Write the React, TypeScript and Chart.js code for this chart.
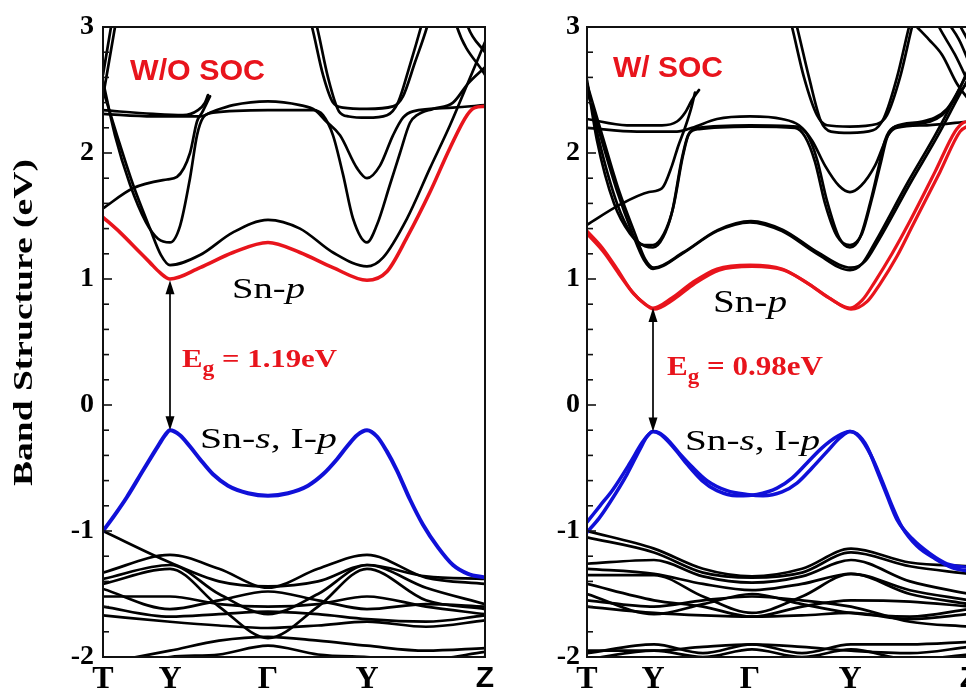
import React, { useEffect, useRef } from 'react';
import { Chart, registerables } from 'chart.js';
Chart.register(...registerables);

// ---------- axis data ----------
const K_LABELS = ['T', 'Y', 'Γ', 'Y', 'Z'];
const L_KPOS = [0, 0.67, 1.65, 2.64, 3.82];
const R_KPOS = [0, 0.66, 1.63, 2.63, 3.82];
const Y_TICKS = [-2, -1, 0, 1, 2, 3];
const K_VB = [0, 0.67, 1.16, 1.65, 2.15, 2.64, 3.23, 3.82];

// ---------- W/O SOC bands: [k, E (eV)] ----------
const L_CB = [[0, 1.49], [0.17, 1.37], [0.37, 1.21], [0.47, 1.13], [0.57, 1.05], [0.67, 1.0], [0.97, 1.09], [1.3, 1.21], [1.65, 1.29], [1.97, 1.21], [2.3, 1.09], [2.64, 0.99], [2.84, 1.06], [3.04, 1.33], [3.27, 1.69], [3.47, 2.04], [3.64, 2.3], [3.72, 2.36], [3.82, 2.37]];
const L_VB = [[0, -1.0], [0.12, -0.87], [0.24, -0.73], [0.4, -0.52], [0.5, -0.39], [0.57, -0.3], [0.62, -0.24], [0.67, -0.2], [0.77, -0.24], [0.87, -0.33], [0.97, -0.43], [1.1, -0.55], [1.25, -0.64], [1.45, -0.7], [1.65, -0.72], [1.85, -0.7], [2.05, -0.64], [2.2, -0.55], [2.34, -0.43], [2.44, -0.33], [2.54, -0.24], [2.64, -0.2], [2.74, -0.25], [2.84, -0.37], [2.94, -0.52], [3.07, -0.75], [3.2, -0.95], [3.35, -1.13], [3.5, -1.27], [3.65, -1.34], [3.82, -1.37]];
const L_B1 = [[0, 2.5], [0.14, 2.14], [0.3, 1.75], [0.47, 1.4], [0.58, 1.19], [0.67, 1.11], [0.97, 1.19], [1.3, 1.37], [1.65, 1.47], [1.97, 1.4], [2.3, 1.21], [2.64, 1.1], [2.8, 1.17], [3.04, 1.48], [3.27, 1.88], [3.47, 2.22], [3.64, 2.54], [3.82, 2.88]];
const L_B2 = [[0, 2.57], [0.12, 2.14], [0.27, 1.75], [0.43, 1.45], [0.55, 1.32], [0.67, 1.29], [0.77, 1.42], [0.87, 1.8], [0.94, 2.14], [1.0, 2.28], [1.1, 2.32], [1.65, 2.34], [2.1, 2.34], [2.2, 2.3], [2.3, 2.14], [2.4, 1.83], [2.5, 1.48], [2.64, 1.29], [2.74, 1.43], [2.87, 1.75], [2.97, 2.0], [3.07, 2.24], [3.14, 2.3], [3.3, 2.35], [3.5, 2.4], [3.65, 2.55], [3.82, 2.68]];
const L_B3 = [[0, 1.56], [0.3, 1.72], [0.64, 1.79], [0.74, 1.81], [0.87, 2.0], [0.94, 2.25], [0.99, 2.32], [1.04, 2.4], [1.07, 2.45]];
const L_F1 = [[0, 2.34], [0.5, 2.31], [0.8, 2.3], [0.95, 2.34], [1.02, 2.4], [1.05, 2.46]];
const L_F2 = [[0, 2.31], [0.5, 2.29], [0.97, 2.29], [1.1, 2.33], [1.3, 2.38], [1.65, 2.41], [1.97, 2.38], [2.12, 2.34], [2.22, 2.26], [2.37, 2.14], [2.54, 1.88], [2.64, 1.8], [2.77, 1.9], [2.9, 2.14], [3.0, 2.28], [3.1, 2.33], [3.5, 2.36], [3.82, 2.38]];
const L_U1 = [[1.98, 3.3], [2.09, 3.0], [2.2, 2.62], [2.3, 2.4], [2.4, 2.36], [2.64, 2.35], [2.9, 2.37], [3.0, 2.45], [3.12, 2.72], [3.24, 3.0], [3.34, 3.3]];
const L_U2 = [[2.03, 3.3], [2.14, 3.0], [2.25, 2.6], [2.36, 2.33], [2.46, 2.29], [2.64, 2.28], [2.84, 2.3], [2.95, 2.4], [3.07, 2.7], [3.18, 3.0], [3.28, 3.3]];
const L_T1 = [[0, 2.45], [0.12, 3.0], [0.2, 3.4]];
const L_T2 = [[0, 2.62], [0.08, 3.0], [0.14, 3.3]];
const L_D1 = [[3.45, 3.3], [3.54, 3.0], [3.82, 2.62]];
const L_D2 = [[3.55, 3.3], [3.65, 3.0], [3.82, 2.8]];
const L_VALENCE = [
  [-1.0, -1.25, -1.4, -1.44, -1.4, -1.27, -1.36, -1.38],
  [-1.33, -1.19, -1.3, -1.45, -1.3, -1.19, -1.37, -1.42],
  [-1.38, -1.27, -1.5, -1.66, -1.5, -1.27, -1.45, -1.58],
  [-1.42, -1.3, -1.6, -1.85, -1.6, -1.3, -1.55, -1.62],
  [-1.46, -1.62, -1.55, -1.48, -1.55, -1.62, -1.58, -1.6],
  [-1.52, -1.52, -1.58, -1.6, -1.58, -1.52, -1.6, -1.66],
  [-1.6, -1.68, -1.66, -1.64, -1.66, -1.7, -1.72, -1.67],
  [-1.67, -1.72, -1.75, -1.77, -1.75, -1.72, -1.76, -1.71],
  [-2.05, -1.95, -1.87, -1.84, -1.87, -1.91, -1.95, -1.93],
  [-2.1, -2.0, -1.98, -1.91, -1.98, -2.0, -2.02, -1.96],
  [-2.2, -2.02, -2.0, -2.05, -2.0, -2.02, -2.05, -2.0],
];

// ---------- W/ SOC bands ----------
const R_CB1 = [[0, 1.38], [0.15, 1.25], [0.3, 1.08], [0.45, 0.9], [0.58, 0.8], [0.66, 0.77], [0.85, 0.85], [1.05, 0.97], [1.3, 1.08], [1.63, 1.11], [1.95, 1.08], [2.2, 0.97], [2.42, 0.85], [2.63, 0.77], [2.75, 0.83], [2.88, 0.98], [3.05, 1.2], [3.21, 1.43], [3.48, 1.85], [3.68, 2.17], [3.76, 2.24], [3.82, 2.25]];
const R_CB2 = [[0, 1.36], [0.17, 1.21], [0.32, 1.04], [0.47, 0.88], [0.6, 0.79], [0.67, 0.76], [0.87, 0.84], [1.07, 0.96], [1.32, 1.07], [1.65, 1.1], [1.97, 1.07], [2.22, 0.96], [2.44, 0.84], [2.64, 0.76], [2.8, 0.82], [2.93, 0.96], [3.1, 1.18], [3.26, 1.43], [3.53, 1.85], [3.73, 2.17], [3.82, 2.22]];
const R_VB1 = [[0, -0.93], [0.13, -0.8], [0.26, -0.67], [0.43, -0.46], [0.55, -0.3], [0.61, -0.24], [0.66, -0.21], [0.73, -0.23], [0.8, -0.28], [0.9, -0.37], [1.0, -0.47], [1.15, -0.6], [1.3, -0.68], [1.5, -0.72], [1.7, -0.71], [1.9, -0.66], [2.05, -0.58], [2.2, -0.46], [2.35, -0.34], [2.5, -0.25], [2.63, -0.21], [2.7, -0.23], [2.8, -0.33], [2.9, -0.52], [3.0, -0.72], [3.1, -0.91], [3.25, -1.06], [3.43, -1.18], [3.6, -1.26], [3.82, -1.29]];
const R_VB2 = [[0, -1.01], [0.12, -0.9], [0.24, -0.76], [0.4, -0.55], [0.53, -0.35], [0.6, -0.25], [0.66, -0.21], [0.72, -0.22], [0.8, -0.27], [0.92, -0.38], [1.05, -0.49], [1.2, -0.6], [1.4, -0.68], [1.6, -0.71], [1.76, -0.72], [1.95, -0.69], [2.1, -0.62], [2.25, -0.5], [2.4, -0.37], [2.53, -0.26], [2.63, -0.21], [2.72, -0.25], [2.84, -0.4], [2.95, -0.6], [3.05, -0.8], [3.15, -0.97], [3.3, -1.12], [3.48, -1.22], [3.65, -1.29], [3.82, -1.32]];
const R_B1A = [[0, 2.5], [0.14, 2.12], [0.3, 1.7], [0.46, 1.35], [0.57, 1.15], [0.66, 1.08], [0.95, 1.2], [1.3, 1.38], [1.63, 1.45], [1.95, 1.38], [2.3, 1.2], [2.63, 1.07], [2.75, 1.12], [2.88, 1.29], [3.21, 1.77], [3.48, 2.14], [3.68, 2.44], [3.82, 2.66]];
const R_B1B = [[0, 2.55], [0.16, 2.12], [0.32, 1.7], [0.48, 1.36], [0.58, 1.16], [0.67, 1.09], [0.96, 1.21], [1.31, 1.39], [1.64, 1.46], [1.96, 1.39], [2.31, 1.21], [2.64, 1.09], [2.78, 1.14], [2.91, 1.3], [3.24, 1.77], [3.51, 2.14], [3.71, 2.44], [3.82, 2.6]];
const R_B2A = [[0, 2.55], [0.12, 2.1], [0.3, 1.6], [0.45, 1.35], [0.58, 1.26], [0.66, 1.25], [0.76, 1.33], [0.85, 1.53], [0.95, 1.96], [1.01, 2.14], [1.11, 2.2], [1.63, 2.22], [2.1, 2.21], [2.2, 2.15], [2.3, 1.95], [2.4, 1.62], [2.52, 1.33], [2.63, 1.25], [2.73, 1.33], [2.83, 1.6], [2.92, 1.9], [2.98, 2.1], [3.06, 2.2], [3.3, 2.23], [3.55, 2.3], [3.7, 2.45], [3.82, 2.58]];
const R_B2B = [[0, 2.58], [0.1, 2.1], [0.27, 1.6], [0.43, 1.36], [0.57, 1.27], [0.66, 1.27], [0.77, 1.36], [0.86, 1.56], [0.96, 1.98], [1.02, 2.15], [1.12, 2.19], [1.63, 2.21], [2.08, 2.2], [2.18, 2.13], [2.28, 1.93], [2.38, 1.6], [2.5, 1.34], [2.63, 1.27], [2.75, 1.36], [2.85, 1.64], [2.94, 1.93], [3.0, 2.12], [3.08, 2.21], [3.35, 2.25], [3.6, 2.35], [3.73, 2.52], [3.82, 2.68]];
const R_B3 = [[0, 1.43], [0.33, 1.59], [0.62, 1.69], [0.75, 1.72], [0.85, 1.9], [0.91, 2.05], [0.98, 2.2], [1.04, 2.35], [1.08, 2.48]];
const R_F1 = [[0, 2.27], [0.4, 2.22], [0.75, 2.22], [0.9, 2.25], [0.98, 2.32], [1.05, 2.42], [1.12, 2.5]];
const R_F2 = [[0, 2.2], [0.5, 2.17], [0.9, 2.17], [1.05, 2.2], [1.3, 2.27], [1.63, 2.29], [1.95, 2.27], [2.12, 2.22], [2.25, 2.1], [2.38, 1.9], [2.52, 1.74], [2.63, 1.69], [2.74, 1.74], [2.88, 1.9], [3.01, 2.14], [3.1, 2.2], [3.4, 2.22], [3.82, 2.25]];
const R_U1 = [[1.95, 3.3], [2.05, 3.0], [2.17, 2.6], [2.3, 2.3], [2.4, 2.22], [2.63, 2.21], [2.9, 2.23], [3.0, 2.3], [3.13, 2.6], [3.25, 3.0], [3.35, 3.3]];
const R_U2 = [[2.0, 3.3], [2.1, 3.0], [2.22, 2.6], [2.34, 2.25], [2.44, 2.17], [2.63, 2.16], [2.86, 2.18], [2.97, 2.28], [3.1, 2.6], [3.22, 3.0], [3.32, 3.3]];
const R_D1 = [[3.3, 3.0], [3.42, 2.9], [3.55, 2.78], [3.7, 2.55], [3.82, 2.42]];
const R_D2 = [[3.4, 3.2], [3.52, 3.0], [3.68, 2.78], [3.82, 2.55]];
const R_D3 = [[3.5, 3.2], [3.6, 3.05], [3.72, 2.9], [3.82, 2.72]];
const R_D4 = [[3.55, 3.3], [3.67, 3.1], [3.82, 2.88]];
const R_VALENCE = [
  [-1.0, -1.14, -1.3, -1.36, -1.3, -1.14, -1.25, -1.28],
  [-1.05, -1.17, -1.33, -1.37, -1.33, -1.17, -1.28, -1.34],
  [-1.26, -1.23, -1.36, -1.41, -1.36, -1.23, -1.4, -1.5],
  [-1.3, -1.34, -1.42, -1.47, -1.42, -1.34, -1.47, -1.55],
  [-1.35, -1.35, -1.52, -1.65, -1.52, -1.34, -1.5, -1.58],
  [-1.42, -1.55, -1.6, -1.68, -1.6, -1.55, -1.56, -1.6],
  [-1.5, -1.66, -1.58, -1.5, -1.58, -1.65, -1.68, -1.62],
  [-1.55, -1.6, -1.55, -1.52, -1.55, -1.6, -1.72, -1.76],
  [-1.6, -1.65, -1.67, -1.68, -1.67, -1.65, -1.7, -1.66],
  [-1.97, -1.9, -1.97, -1.9, -1.97, -1.9, -1.9, -1.88],
  [-1.95, -1.95, -1.92, -1.9, -1.92, -1.95, -1.97, -1.92],
  [-2.02, -1.95, -2.0, -1.94, -2.0, -1.94, -2.02, -1.98],
];

const RED = '#e8141c';
const BLUE = '#1010d8';
const SERIF = '"Liberation Serif", "Times New Roman", serif';
const SANS = '"Liberation Sans", Arial, sans-serif';

type Part = { t: string; i?: boolean; b?: boolean; sub?: boolean };
type Label = { parts: Part[]; k: number; e: number; size: number; w: number; color: string; family: string };

function drawRich(ctx: CanvasRenderingContext2D, lab: { parts: Part[]; size: number; w: number; color: string; family: string }) {
  const fontFor = (p: Part) => `${p.i ? 'italic ' : ''}${p.b ? 'bold ' : ''}${p.sub ? Math.round(lab.size * 0.75) : lab.size}px ${lab.family}`;
  let nat = 0;
  for (const p of lab.parts) { ctx.font = fontFor(p); nat += ctx.measureText(p.t).width; }
  const sx = lab.w / nat;
  ctx.save();
  ctx.scale(sx, 1);
  ctx.fillStyle = lab.color;
  ctx.textBaseline = 'alphabetic';
  ctx.textAlign = 'left';
  let cx = 0;
  for (const p of lab.parts) {
    ctx.font = fontFor(p);
    ctx.fillText(p.t, cx, p.sub ? lab.size * 0.3 : 0);
    cx += ctx.measureText(p.t).width;
  }
  ctx.restore();
}

function drawArrow(ctx: CanvasRenderingContext2D, x: number, yTop: number, yBot: number) {
  const hl = 14, hw = 4.5;
  ctx.save();
  ctx.strokeStyle = '#000';
  ctx.fillStyle = '#000';
  ctx.lineWidth = 1.7;
  ctx.beginPath(); ctx.moveTo(x, yTop + hl - 2); ctx.lineTo(x, yBot - hl + 2); ctx.stroke();
  ctx.beginPath(); ctx.moveTo(x, yTop); ctx.lineTo(x - hw, yTop + hl); ctx.lineTo(x + hw, yTop + hl); ctx.closePath(); ctx.fill();
  ctx.beginPath(); ctx.moveTo(x, yBot); ctx.lineTo(x - hw, yBot - hl); ctx.lineTo(x + hw, yBot - hl); ctx.closePath(); ctx.fill();
  ctx.restore();
}

type PanelSpec = {
  kpos: number[];
  yW: number;
  padR: number;
  tickPad: number;
  bands: { pts: number[][]; color: string; width: number }[];
  labels: Label[];
  arrow: { k: number; eTop: number; eBot: number };
  yTitle: boolean;
};

const toPts = (arr: number[]) => K_VB.map((k, i) => [k, arr[i]]);
const BW = 2.7;

const LEFT: PanelSpec = {
  kpos: L_KPOS, yW: 103, padR: 15, tickPad: 9, yTitle: true,
  bands: [
    { pts: L_CB, color: RED, width: 3.6 },
    { pts: L_VB, color: BLUE, width: 4 },
    ...[L_B1, L_B2, L_B3, L_F1, L_F2, L_U1, L_U2, L_T1, L_T2, L_D1, L_D2].map((p) => ({ pts: p, color: '#000', width: BW })),
    ...L_VALENCE.map((a) => ({ pts: toPts(a), color: '#000', width: BW })),
  ],
  labels: [
    { parts: [{ t: 'W/O SOC', b: true }], k: 0.27, e: 2.58, size: 30, w: 135, color: RED, family: SANS },
    { parts: [{ t: 'Sn-' }, { t: 'p', i: true }], k: 1.29, e: 0.85, size: 30, w: 73, color: '#000', family: SERIF },
    { parts: [{ t: 'E', b: true }, { t: 'g', b: true, sub: true }, { t: ' = 1.19eV', b: true }], k: 0.79, e: 0.3, size: 26, w: 155, color: RED, family: SERIF },
    { parts: [{ t: 'Sn-' }, { t: 's', i: true }, { t: ', I-' }, { t: 'p', i: true }], k: 0.97, e: -0.34, size: 30, w: 137, color: '#000', family: SERIF },
  ],
  arrow: { k: 0.67, eTop: 0.99, eBot: -0.2 },
};

const RIGHT: PanelSpec = {
  kpos: R_KPOS, yW: 67, padR: 21, tickPad: 7, yTitle: false,
  bands: [
    { pts: R_CB1, color: RED, width: 3.2 },
    { pts: R_CB2, color: RED, width: 3.2 },
    { pts: R_VB1, color: BLUE, width: 3.5 },
    { pts: R_VB2, color: BLUE, width: 3.5 },
    ...[R_B1A, R_B1B, R_B2A, R_B2B, R_B3, R_F1, R_F2, R_U1, R_U2, R_D1, R_D2, R_D3, R_D4].map((p) => ({ pts: p, color: '#000', width: BW })),
    ...R_VALENCE.map((a) => ({ pts: toPts(a), color: '#000', width: BW })),
  ],
  labels: [
    { parts: [{ t: 'W/ SOC', b: true }], k: 0.26, e: 2.6, size: 30, w: 110, color: RED, family: SANS },
    { parts: [{ t: 'Sn-' }, { t: 'p', i: true }], k: 1.26, e: 0.74, size: 31, w: 74, color: '#000', family: SERIF },
    { parts: [{ t: 'E', b: true }, { t: 'g', b: true, sub: true }, { t: ' = 0.98eV', b: true }], k: 0.8, e: 0.24, size: 27, w: 156, color: RED, family: SERIF },
    { parts: [{ t: 'Sn-' }, { t: 's', i: true }, { t: ', I-' }, { t: 'p', i: true }], k: 0.98, e: -0.36, size: 30, w: 135, color: '#000', family: SERIF },
  ],
  arrow: { k: 0.66, eTop: 0.77, eBot: -0.21 },
};

function makePlugin(spec: PanelSpec) {
  return {
    id: 'bandDecor',
    afterDatasetsDraw(chart: any) {
      const ctx: CanvasRenderingContext2D = chart.ctx;
      const { left, right, top, bottom } = chart.chartArea;
      const xs = chart.scales.x;
      const ys = chart.scales.y;
      ctx.save();
      ctx.strokeStyle = '#111';
      ctx.lineWidth = 2;
      ctx.strokeRect(left, top, right - left, bottom - top);
      ctx.lineWidth = 1.6;
      for (let i = 0; i <= 25; i++) {
        const v = -2 + i * 0.2;
        const y = ys.getPixelForValue(v);
        const len = i % 5 === 0 ? 9 : 6;
        ctx.beginPath(); ctx.moveTo(left, y); ctx.lineTo(left + len, y); ctx.stroke();
      }
      for (const lab of spec.labels) {
        ctx.save();
        ctx.translate(xs.getPixelForValue(lab.k), ys.getPixelForValue(lab.e));
        drawRich(ctx, lab);
        ctx.restore();
      }
      drawArrow(ctx, xs.getPixelForValue(spec.arrow.k), ys.getPixelForValue(spec.arrow.eTop), ys.getPixelForValue(spec.arrow.eBot));
      if (spec.yTitle) {
        ctx.save();
        ctx.translate(left - 71, ys.getPixelForValue(0.65));
        ctx.rotate(-Math.PI / 2);
        ctx.translate(-163, 0);
        drawRich(ctx, { parts: [{ t: 'Band Structure (eV)', b: true }], size: 28, w: 327, color: '#000', family: SERIF });
        ctx.restore();
      }
      ctx.restore();
    },
  };
}

function buildConfig(spec: PanelSpec): any {
  return {
    type: 'line',
    data: {
      datasets: spec.bands.map((b) => ({
        data: b.pts.map(([x, y]) => ({ x, y })),
        borderColor: b.color,
        borderWidth: b.width,
        pointRadius: 0,
        fill: false,
        cubicInterpolationMode: 'monotone',
        borderCapStyle: 'round',
        borderJoinStyle: 'round',
      })),
    },
    options: {
      responsive: false,
      animation: false,
      devicePixelRatio: 1,
      layout: { padding: { top: 27, right: spec.padR, bottom: 0, left: 0 } },
      plugins: { legend: { display: false }, tooltip: { enabled: false } },
      scales: {
        x: {
          type: 'linear',
          min: 0,
          max: 3.82,
          grid: { display: false, drawTicks: false },
          border: { display: false },
          afterBuildTicks: (s: any) => { s.ticks = spec.kpos.map((v) => ({ value: v })); },
          afterFit: (s: any) => { s.height = 38; },
          ticks: {
            autoSkip: false,
            maxRotation: 0,
            minRotation: 0,
            padding: 4,
            color: '#000',
            font: (c: any) => (c.index === 4
              ? { family: SANS, size: 30, weight: 'bold' }
              : { family: SERIF, size: 32, weight: 'bold' }),
            callback: (_v: any, i: number) => K_LABELS[i],
          },
        },
        y: {
          min: -2,
          max: 3,
          grid: { display: false, drawTicks: false },
          border: { display: false },
          afterBuildTicks: (s: any) => { s.ticks = Y_TICKS.map((v) => ({ value: v })); },
          afterFit: (s: any) => { s.width = spec.yW; },
          ticks: {
            padding: spec.tickPad,
            color: '#000',
            font: { family: SERIF, size: 28, weight: 'bold' },
            callback: (v: any) => String(v),
          },
        },
      },
    },
    plugins: [makePlugin(spec)],
  };
}

export default function App() {
  const lRef = useRef<HTMLCanvasElement>(null);
  const rRef = useRef<HTMLCanvasElement>(null);
  useEffect(() => {
    const a = new Chart(lRef.current as HTMLCanvasElement, buildConfig(LEFT));
    const b = new Chart(rRef.current as HTMLCanvasElement, buildConfig(RIGHT));
    return () => { a.destroy(); b.destroy(); };
  }, []);
  return (
    <div style={{ position: 'fixed', left: 0, top: 0, width: 966, height: 695, overflow: 'hidden', background: '#fff' }}>
      <canvas ref={lRef} width={500} height={695} style={{ position: 'absolute', left: 0, top: 0 }} />
      <canvas ref={rRef} width={470} height={695} style={{ position: 'absolute', left: 520, top: 0 }} />
    </div>
  );
}
